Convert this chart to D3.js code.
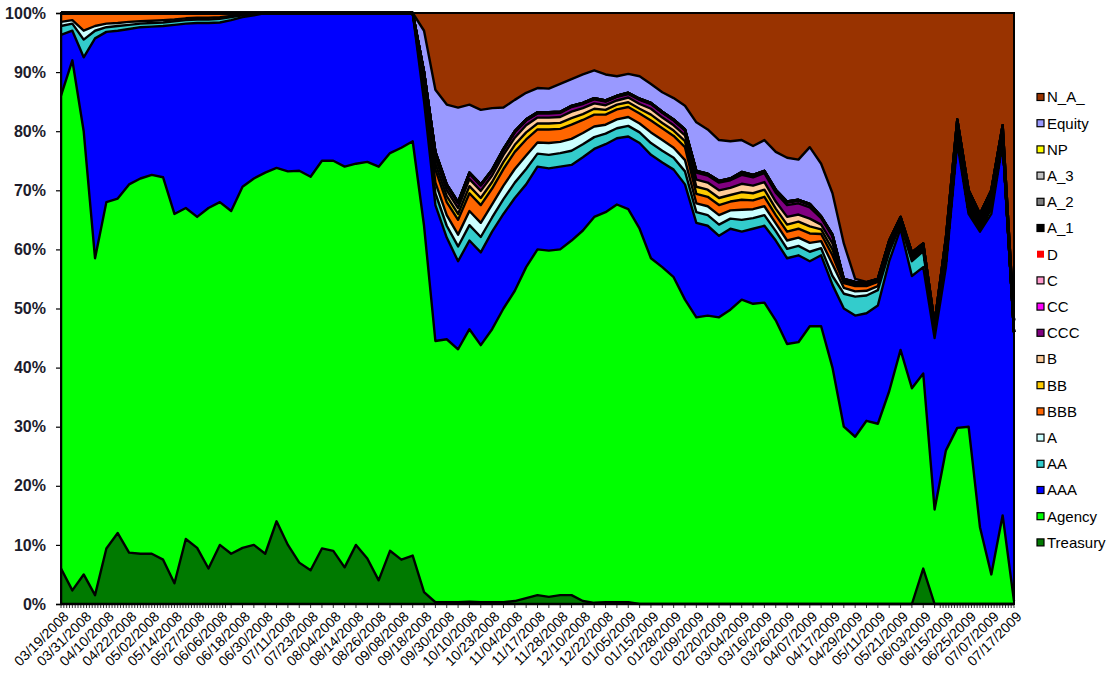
<!DOCTYPE html>
<html><head><meta charset="utf-8">
<script src="https://cdn.jsdelivr.net/npm/d3@7"></script>
<style>body{margin:0;background:#fff}svg{display:block}</style>
</head><body><svg id="c" width="1111" height="686"></svg>
<script>
// Category tick labels (every 8 business days)
const xLabels = ["03/19/2008","03/31/2008","04/10/2008","04/22/2008","05/02/2008","05/14/2008","05/27/2008","06/06/2008","06/18/2008","06/30/2008","07/11/2008","07/23/2008","08/04/2008","08/14/2008","08/26/2008","09/08/2008","09/18/2008","09/30/2008","10/10/2008","10/23/2008","11/04/2008","11/17/2008","11/28/2008","12/10/2008","12/22/2008","01/05/2009","01/15/2009","01/28/2009","02/09/2009","02/20/2009","03/04/2009","03/16/2009","03/26/2009","04/07/2009","04/17/2009","04/29/2009","05/11/2009","05/21/2009","06/03/2009","06/15/2009","06/25/2009","07/07/2009","07/17/2009"];

const yTicks = [0,10,20,30,40,50,60,70,80,90,100];

// Series values (shares, %), sampled every 4 business days (two samples per label)
const treasury = [
 6,2.3,5,1.5,9.4,12,8.7,8.5,8.5,7.5,
 3.5,11,9.5,6,10,8.5,9.5,10,8.5,14,
 10,7,5.7,9.4,9,6.2,10,7.7,4,9,
 7.5,8.2,2,0.3,0.3,0.3,0.4,0.3,0.3,0.3,
 0.5,1,1.5,1.2,1.5,1.5,0.5,0.2,0.3,0.3,
 0.3,0,0,0,0,0,0,0,0,0,
 0,0,0,0,0,0,0,0,0,0,
 0,0,0,0,0,0,6,0,0,0,
 0,0,0,0,0];
const agency = [
 80,89.7,75,57,58.6,56.6,62.3,63.5,64.1,64.7,
 62.5,56,56,61,58,58,61.1,62,64.5,59.8,
 63.2,66.3,66.6,65.6,66,67.8,64.5,67.1,70,67.3,
 69.7,70.1,62,44.2,44.5,42.8,46.1,43.5,46.2,49.7,
 52.5,56,58.5,58.6,58.5,60,62.7,65.3,66,67.3,
 66.5,63.5,58.5,57,55.3,51.5,48.5,48.8,48.5,49.8,
 51.5,50.8,51,48,44,44.3,47,47,40,30,
 28.3,31,30.5,36,43,36.5,33,16,26,29.8,
 30,13,5,15,0.5];
const aaa = [
 10.3,5,12.5,37.2,28.8,28.4,26.3,25.6,25.1,25.6,
 32,31.2,32.8,31.3,30.4,32.3,28.7,27.6,27,26.2,
 26.8,26.7,27.7,25,25,26,25.5,25.2,26,23.7,
 22.8,21.7,21,23,17.2,14.9,15,15.7,16.5,16,
 15.7,14,14,13.9,14,12.8,12.4,11.5,11.5,11.2,
 12.3,14.5,17.5,17.7,18.2,19.5,16,15.2,13.8,13.7,
 11.5,12.7,13,13.5,14.5,14.7,11,12,14,20,
 20.5,18.2,20,22,20.5,19,18,29,31,48.2,
 36,50,61,63,45.5];
const aa = [
 1.5,1.2,3,1.3,0.8,0.8,0.7,0.6,0.6,0.6,
 0.6,0.6,0.6,0.6,0.6,0.5,0.3,0.2,0,0,
 0,0,0,0,0,0,0,0,0,0,
 0,0,1.5,2,2,2.5,2.6,2.6,2.4,2.5,
 2.6,2.6,2.2,2.3,2.3,2.4,2.2,2,1.8,1.7,
 1.8,1.8,2,2,2,2.2,1.8,1.8,1.9,1.7,
 2,1.8,1.8,1.6,1.6,1.6,1.6,1.2,1.5,2.5,
 3.2,3,2.6,1.5,0.8,2.5,2.7,1,1,1,
 0.5,0.5,1,0.5,0];
const aSingle = [
 0.7,0.6,1.5,0.8,0.6,0.5,0.5,0.4,0.4,0.4,
 0.3,0.3,0.3,0.3,0.3,0.2,0.1,0.1,0,0,
 0,0,0,0,0,0,0,0,0,0,
 0,0,1,1.8,1.8,2,2.4,2.4,2.2,2.3,
 2.3,2.3,1.9,2,1.9,2,1.9,1.8,1.5,1.5,
 1.5,1.5,1.8,1.8,1.7,1.9,1.5,1.5,1.6,1.4,
 1.7,1.5,1.5,1.3,1.4,1.4,1.5,1.2,2,1,
 0.9,0.8,0.7,0.3,0,0.3,0.3,0,0,0,
 0,0,0,0,0];
const bbb = [
 1.5,1.2,3,2.2,1.8,1.7,1.5,1.4,1.3,1.2,
 1.1,0.9,0.8,0.8,0.7,0.5,0.3,0.1,0,0,
 0,0,0,0,0,0,0,0,0,0,
 0,0,1,2.2,2.2,2.5,3,3,2.7,2.8,
 2.9,2.7,2.2,2.3,2.2,2.4,2.2,2,1.7,1.7,
 1.7,1.7,2,2,2,2.2,1.6,1.6,1.7,1.5,
 1.7,1.5,1.6,1.4,1.5,1.5,1.6,1.2,1.5,0.8,
 0.9,0.8,0.7,0.4,0.2,0.5,0.5,0,0,0,
 0,0,0,0,0];
const bb = [
 0,0,0,0,0,0,0,0,0,0,
 0,0,0,0,0,0,0,0,0,0,
 0,0,0,0,0,0,0,0,0,0,
 0,0,0.5,1,1,1,1.2,1.2,1.1,1.2,
 1.2,1.2,1,1,1,1.1,1,1,0.8,0.8,
 0.8,0.8,1,0.9,0.9,1,1.2,1.2,1.2,1.1,
 1.3,1.2,1.2,1.1,1.2,1.2,1.2,0.8,1,0.2,
 0.2,0.2,0.2,0,0,0,0,0,0,0,
 0,0,0,0,0];
const bSingle = [
 0,0,0,0,0,0,0,0,0,0,
 0,0,0,0,0,0,0,0,0,0,
 0,0,0,0,0,0,0,0,0,0,
 0,0,0.5,1,1,1,1.2,1.2,1.1,1.2,
 1.2,1.2,1,1,1,1.1,1,0.9,0.8,0.7,
 0.8,0.8,1,0.9,0.9,1,1.2,1.2,1.3,1.2,
 1.4,1.3,1.3,1.2,1.3,1.2,1.3,0.8,1,0.2,
 0.2,0.2,0.1,0,0,0,0,0,0,0,
 0,0,0,0,0];
const ccc = [
 0,0,0,0,0,0,0,0,0,0,
 0,0,0,0,0,0,0,0,0,0,
 0,0,0,0,0,0,0,0,0,0,
 0,0,0.5,0.8,0.8,0.8,0.9,0.9,0.8,0.8,
 0.9,0.8,0.7,0.7,0.7,0.8,0.7,0.7,0.6,0.6,
 0.6,0.7,0.8,0.8,0.8,0.8,1.2,1.2,1.3,1.3,
 1.5,1.4,1.5,1.5,2,1.9,1.9,1.1,1.2,0.2,
 0.2,0.1,0.1,0,0,0,0,0,0,0,
 0,0,0,0,0];
const cc = [
 0,0,0,0,0,0,0,0,0,0,
 0,0,0,0,0,0,0,0,0,0,
 0,0,0,0,0,0,0,0,0,0,
 0,0,0,0.1,0.1,0.1,0.1,0.1,0.1,0.1,
 0.1,0.1,0.1,0.1,0.1,0.1,0.1,0.1,0.1,0.1,
 0.1,0.1,0.1,0.1,0.1,0.1,0.2,0.2,0.2,0.2,
 0.3,0.2,0.2,0.3,0.4,0.4,0.4,0.2,0.2,0,
 0,0,0,0,0,0,0,0,0,0,
 0,0,0,0,0];
const cSingle = [
 0,0,0,0,0,0,0,0,0,0,
 0,0,0,0,0,0,0,0,0,0,
 0,0,0,0,0,0,0,0,0,0,
 0,0,0,0,0,0,0,0,0,0,
 0,0,0,0,0,0,0,0,0,0,
 0,0,0,0,0,0,0,0,0,0,
 0.1,0.1,0.1,0.1,0.1,0.1,0.1,0,0,0,
 0,0,0,0,0,0,0,0,0,0,
 0,0,0,0,0];
const dSingle = [
 0,0,0,0,0,0,0,0,0,0,
 0,0,0,0,0,0,0,0,0,0,
 0,0,0,0,0,0,0,0,0,0,
 0,0,0,0,0,0,0,0,0,0,
 0,0,0,0,0,0,0,0,0,0,
 0,0,0,0,0,0,0,0,0,0,
 0,0,0,0,0,0,0,0,0,0,
 0,0,0,0,0,0,0,0,0,0,
 0,0,0,0,0];
const a1 = [
 0,0,0,0,0,0,0,0,0,0,
 0,0,0,0,0,0,0,0,0,0,
 0,0,0,0,0,0,0,0,0,0,
 0,0,0,0.1,0.1,0.1,0.1,0.1,0.1,0.1,
 0.1,0.1,0.1,0.1,0.1,0.1,0.1,0.1,0.1,0.1,
 0.1,0.1,0.1,0.1,0.1,0.1,0.1,0.1,0.1,0.1,
 0.1,0.1,0.1,0.1,0.1,0.1,0.1,0.1,0.1,0.1,
 0.1,0.1,0.1,1.3,1,0.7,0.5,1.5,4,3,
 3.5,2.5,3,2.5,2];
const a2 = dSingle.slice();
const a3 = dSingle.slice();
const np = dSingle.slice();
const equity = [
 0,0,0,0,0,0,0,0,0,0,
 0,0,0,0,0,0,0,0,0,0,
 0,0,0,0,0,0,0,0,0,0,
 0,0,7,10.5,13.5,16,11.5,12.6,10.4,7,
 5.3,4.5,4.1,4,4.7,4.5,4.8,4.7,4.4,3.3,
 3.2,3.8,3.2,3.3,3.6,4,8.2,7.5,6.9,6.3,
 5.4,4.9,5.2,6.4,7.4,6.8,9.6,8.9,7,6,
 0.5,0.1,0,0,0,0,0,0,0,0,
 0,0,0,0,0];
const naSeries = [
 0,0,0,0,0,0,0,0,0,0,
 0,0,0,0,0,0,0,0,0,0,
 0,0,0,0,0,0,0,0,0,0,
 0,0,3,13,15.5,16,15.5,16.4,16.1,16,
 14.7,13.5,12.7,12.8,12,11.2,10.4,9.7,10.4,10.7,
 10.3,10.7,12,13.4,14.4,15.7,18.5,19.7,21.5,21.7,
 21.5,22.5,21.5,23.5,24.5,24.8,22.7,25.5,30.5,39,
 45,45.5,45,38.5,34.5,40.5,39,52.5,38,18,
 30,34,30,19,52];

const seriesNames = ["Treasury","Agency","AAA","AA","A","BBB","BB","B","CCC","CC","C","D","A_1","A_2","A_3","NP","Equity","N_A_"];
const seriesValues = [treasury,agency,aaa,aa,aSingle,bbb,bb,bSingle,ccc,cc,cSingle,dSingle,a1,a2,a3,np,equity,naSeries];
const seriesColors = ["#007A00","#00FF00","#0000FF","#33CCCC","#CCFFFF","#FF6600","#FFCC00","#FFCC99","#800080","#FF00FF","#FF99CC","#FF0000","#000000","#808080","#C0C0C0","#FFFF00","#9999FF","#993300"];

const L = 61, R = 1014, T = 13, B = 604;
const nPts = treasury.length;
const svg = d3.select("#c");

const x = d3.scaleLinear().domain([0, nPts - 1]).range([L, R]);
const y = d3.scaleLinear().domain([0, 1]).range([B, T]);
const yPct = d3.scaleLinear().domain([0, 100]).range([B, T]);

const rows = d3.range(nPts).map(i => {
  const r = {i};
  seriesNames.forEach((k, ki) => r[k] = seriesValues[ki][i]);
  return r;
});
const layers = d3.stack().keys(seriesNames).offset(d3.stackOffsetExpand)(rows);
const area = d3.area().x(d => x(d.data.i)).y0(d => y(d[0])).y1(d => y(d[1]));
const topLine = d3.line().x(d => x(d.data.i)).y(d => y(d[1]));

// fills
const fillG = svg.append("g");
fillG.selectAll("path").data(layers).join("path")
  .attr("d", area)
  .attr("fill", (d, i) => seriesColors[i])
  .attr("stroke", (d, i) => seriesColors[i])
  .attr("stroke-width", 0.5);

// black series borders (top edge of every layer)
const lineG = svg.append("g");
layers.slice(0, layers.length - 1).forEach(layer => {
  lineG.append("path")
    .attr("d", topLine(layer))
    .attr("fill", "none")
    .attr("stroke", "#000")
    .attr("stroke-width", 2.4)
    .attr("stroke-linejoin", "round");
});

// plot frame
svg.append("rect").attr("x", L).attr("y", T).attr("width", R - L).attr("height", B - T)
  .attr("fill", "none").attr("stroke", "#000").attr("stroke-width", 2);

// Y axis
const yAxis = svg.append("g").attr("transform", `translate(${L},0)`)
  .call(d3.axisLeft(yPct).tickValues(yTicks).tickFormat(d => d + "%").tickSize(5).tickPadding(10));
yAxis.select(".domain").attr("stroke", "#000").attr("stroke-width", 1.5);
yAxis.selectAll("line").attr("stroke", "#000").attr("stroke-width", 1.2);
yAxis.selectAll("text").attr("font-family", "Liberation Sans, Arial, sans-serif")
  .attr("font-size", 16).attr("font-weight", "bold").attr("fill", "#1c1c2c");

// X axis line and tick marks
const xAxisG = svg.append("g");
xAxisG.append("line").attr("x1", L).attr("x2", R).attr("y1", B).attr("y2", B)
  .attr("stroke", "#000").attr("stroke-width", 2.5);
const tickPos = d3.range(0, nPts - 1 + 0.001, 0.25).filter(u => u <= 14.5 || u >= 77.5 || Math.abs(u - Math.round(u)) < 1e-6);
xAxisG.selectAll("line.t").data(tickPos).join("line").attr("class", "t")
  .attr("x1", d => x(d)).attr("x2", d => x(d)).attr("y1", B).attr("y2", B + 4)
  .attr("stroke", "#000").attr("stroke-width", 0.8);

// X labels, rotated
const labelScale = d3.scalePoint().domain(xLabels).range([L, R]);
xAxisG.selectAll("text").data(xLabels).join("text")
  .attr("transform", d => `translate(${labelScale(d) + 5},${B + 10}) rotate(-45)`)
  .attr("text-anchor", "end").attr("dy", "0.35em")
  .attr("font-family", "Liberation Sans, Arial, sans-serif").attr("font-size", 14)
  .attr("fill", "#000").text(d => d);

// Legend (top: N_A_ ... bottom: Treasury)
const legendOrder = seriesNames.slice().reverse();
const lg = svg.append("g");
legendOrder.forEach((name, i) => {
  const cy = 97 + i * 26.2;
  const ci = seriesNames.indexOf(name);
  lg.append("rect").attr("x", 1037).attr("y", cy - 3.5).attr("width", 7).attr("height", 7)
    .attr("fill", seriesColors[ci]).attr("stroke", name === "D" ? "none" : "#000").attr("stroke-width", 1.2);
  lg.append("text").attr("x", 1047).attr("y", cy).attr("dy", "0.36em")
    .attr("font-family", "Liberation Sans, Arial, sans-serif").attr("font-size", 15)
    .attr("fill", "#000").text(name);
});
</script>
</body></html>
